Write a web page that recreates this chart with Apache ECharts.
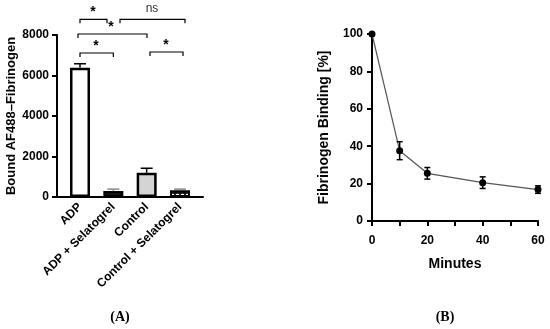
<!DOCTYPE html>
<html><head><meta charset="utf-8">
<script src="https://cdn.jsdelivr.net/npm/echarts@6/dist/echarts.min.js"></script>
<style>html,body{margin:0;padding:0;background:#fff}#c{width:550px;height:329px}</style>
</head><body><div id="c"></div>
<script>
// Panel A data
const categories = ['ADP', 'ADP + Selatogrel', 'Control', 'Control + Selatogrel'];
const barValues = [6380, 300, 1200, 330];
const barErrors = [200, 90, 220, 60];
// significance brackets: [x1, x2, y, label, labelX, labelY]
const sigBrackets = [
  [0, 1, 7110, '*', 0.48, 7450],
  [2.1, 3.09, 7160, '*', 2.58, 7500],
  [-0.06, 2.01, 8050, '*', 0.93, 8390],
  [0, 0.81, 8775, '*', 0.39, 9130],
  [1.2, 3.15, 8775, 'ns', 2.16, 9300]
];
// Panel B data
const minutes = [0, 10, 20, 40, 60];
const binding = [100, 37.6, 25.5, 20.5, 16.8];
const bindingErr = [0, 4.8, 3.1, 3.1, 2.0];

const F = '"Liberation Sans", Arial, sans-serif';
const lab = {color: '#000', fontFamily: F, fontWeight: 'bold', fontSize: 12};
const axLine = {show: true, onZero: false, lineStyle: {color: '#000', width: 2}};
const axTick = {show: true, length: 5, lineStyle: {color: '#000', width: 2}};

// dotted fill tile for the last bar
const tile = document.createElement('canvas');
tile.width = 5; tile.height = 6;
(function () {
  const g = tile.getContext('2d');
  g.fillStyle = '#111'; g.fillRect(0, 0, 5, 6);
  g.fillStyle = '#fff'; g.beginPath(); g.ellipse(2.5, 3, 1.8, 1.2, 0, 0, Math.PI * 2); g.fill();
})();

const barStyles = [
  {color: '#fff', borderColor: '#000', borderWidth: 2.5},
  {color: '#111', borderColor: '#000', borderWidth: 2},
  {color: '#d4d4d4', borderColor: '#000', borderWidth: 2.5},
  {color: {image: tile, repeat: 'repeat'}, borderColor: '#000', borderWidth: 2}
];

const series = [];
series.push({
  type: 'bar', xAxisIndex: 0, yAxisIndex: 0, barWidth: 20,
  data: barValues.map((v, i) => ({value: [i, v], itemStyle: barStyles[i]})),
  z: 2
});
series.push({
  type: 'custom', xAxisIndex: 0, yAxisIndex: 0, z: 3,
  data: barValues.map((v, i) => [i, v, barErrors[i]]),
  renderItem: function (params, api) {
    const x = api.value(0), v = api.value(1), e = api.value(2);
    const b = api.coord([x, v]), t = api.coord([x, v + e]);
    const col = v > 1000 ? '#000' : '#888';
    return {type: 'group', children: [
      {type: 'line', shape: {x1: b[0], y1: b[1], x2: t[0], y2: t[1]}, style: {stroke: col, lineWidth: 1.5}},
      {type: 'line', shape: {x1: t[0] - 6, y1: t[1], x2: t[0] + 6, y2: t[1]}, style: {stroke: col, lineWidth: 1.5}}
    ]};
  }
});
const drop = 200;
series.push({
  type: 'custom', xAxisIndex: 0, yAxisIndex: 0, z: 5, clip: false, silent: true,
  data: sigBrackets.map(b => [b[0], b[1], b[2], b[4], b[5]]),
  encode: {x: [0, 1, 3], y: [2, 4]},
  renderItem: function (params, api) {
    const b = sigBrackets[params.dataIndex];
    const p1 = api.coord([b[0], b[2] - drop]), p2 = api.coord([b[0], b[2]]);
    const p3 = api.coord([b[1], b[2]]), p4 = api.coord([b[1], b[2] - drop]);
    const lp = api.coord([b[4], b[5]]);
    const isStar = b[3] === '*';
    return {type: 'group', children: [
      {type: 'polyline', shape: {points: [p1, p2, p3, p4]}, style: {stroke: '#000', lineWidth: 1.2, fill: null}},
      {type: 'text', x: lp[0], y: lp[1], style: {text: b[3], align: 'center', verticalAlign: 'middle',
        fill: isStar ? '#000' : '#333', fontFamily: F, fontSize: isStar ? 14 : 12, fontWeight: isStar ? 'bold' : 'normal'}}
    ]};
  }
});
// Panel B
series.push({
  type: 'line', xAxisIndex: 1, yAxisIndex: 1, symbol: 'circle', symbolSize: 7,
  itemStyle: {color: '#000'}, lineStyle: {color: '#555', width: 1.2},
  data: minutes.map((m, i) => [m, binding[i]]), z: 3
});
series.push({
  type: 'custom', xAxisIndex: 1, yAxisIndex: 1, z: 4,
  data: minutes.map((m, i) => [m, binding[i], bindingErr[i]]),
  renderItem: function (params, api) {
    const x = api.value(0), v = api.value(1), e = api.value(2);
    if (!e) return null;
    const lo = api.coord([x, v - e]), hi = api.coord([x, v + e]);
    const s = {stroke: '#000', lineWidth: 1.5};
    return {type: 'group', children: [
      {type: 'line', shape: {x1: lo[0], y1: lo[1], x2: hi[0], y2: hi[1]}, style: s},
      {type: 'line', shape: {x1: hi[0] - 3, y1: hi[1], x2: hi[0] + 3, y2: hi[1]}, style: s},
      {type: 'line', shape: {x1: lo[0] - 3, y1: lo[1], x2: lo[0] + 3, y2: lo[1]}, style: s}
    ]};
  }
});

const serif = '"Liberation Serif", "Times New Roman", serif';
const option = {
  animation: false,
  backgroundColor: '#fff',
  title: [
    {text: '(A)', left: 115, top: 305, textAlign: 'center',
     textStyle: {fontFamily: serif, fontWeight: 'bold', fontSize: 14, color: '#000'}},
    {text: '(B)', left: 440, top: 305, textAlign: 'center',
     textStyle: {fontFamily: serif, fontWeight: 'bold', fontSize: 14, color: '#000'}}
  ],
  grid: [
    {left: 57, top: 35, width: 146, height: 162},
    {left: 372, top: 34, width: 166, height: 187}
  ],
  xAxis: [
    {type: 'value', gridIndex: 0, min: -0.69, max: 3.69, splitLine: {show: false},
     axisLine: axLine, axisTick: {show: false},
     axisLabel: Object.assign({}, lab, {customValues: [0, 1, 2, 3], rotate: 45, margin: 8,
       formatter: v => categories[Math.round(v)]})},
    {type: 'value', gridIndex: 1, min: 0, max: 60, interval: 20, splitLine: {show: false},
     axisLine: axLine, axisTick: axTick,
     minorTick: {show: true, splitNumber: 2, length: 5, lineStyle: {color: '#000', width: 2}},
     axisLabel: Object.assign({}, lab, {margin: 14, fontSize: 12}),
     name: 'Minutes', nameLocation: 'middle', nameGap: 36,
     nameTextStyle: {color: '#000', fontFamily: F, fontWeight: 'bold', fontSize: 14}}
  ],
  yAxis: [
    {type: 'value', gridIndex: 0, min: 0, max: 8000, interval: 2000, splitLine: {show: false},
     axisLine: axLine, axisTick: axTick, axisLabel: Object.assign({}, lab, {margin: 8, formatter: v => String(v)}),
     name: 'Bound AF488–Fibrinogen', nameLocation: 'middle', nameGap: 32,
     nameTextStyle: {color: '#000', fontFamily: F, fontWeight: 'bold', fontSize: 13}},
    {type: 'value', gridIndex: 1, min: 0, max: 100, interval: 20, splitLine: {show: false},
     axisLine: axLine, axisTick: axTick, axisLabel: Object.assign({}, lab, {margin: 9}),
     name: 'Fibrinogen Binding [%]', nameLocation: 'middle', nameGap: 41,
     nameTextStyle: {color: '#000', fontFamily: F, fontWeight: 'bold', fontSize: 14}}
  ],
  series: series
};
const chart = echarts.init(document.getElementById('c'), null, {renderer: 'canvas'});
chart.setOption(option);
</script></body></html>
